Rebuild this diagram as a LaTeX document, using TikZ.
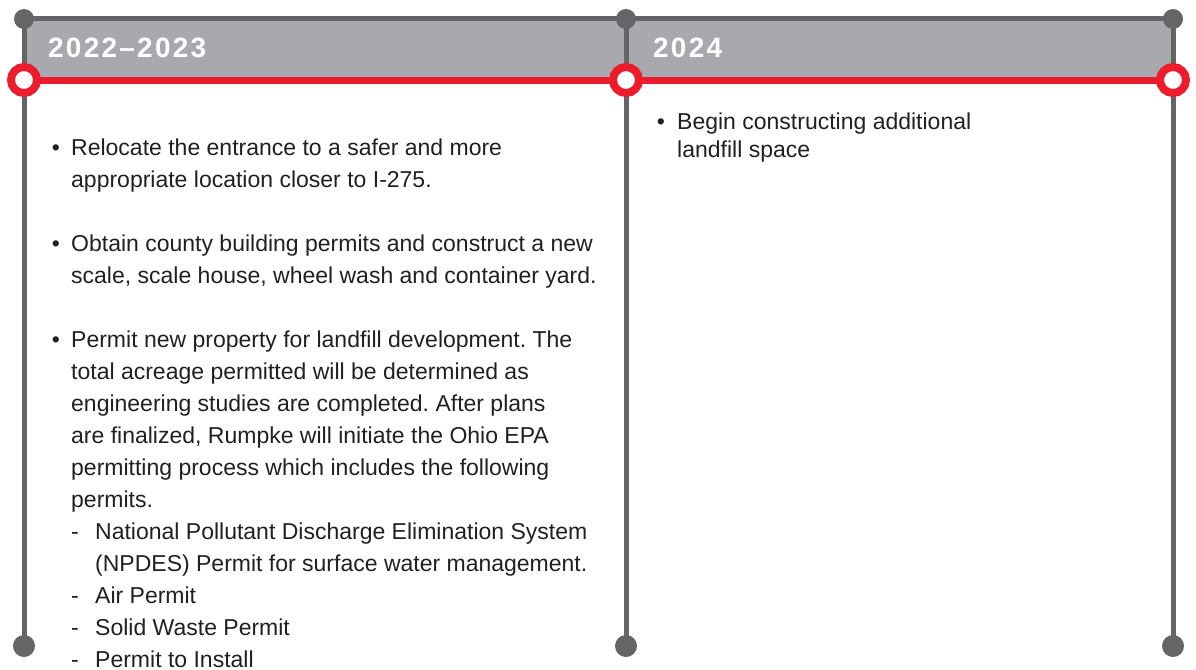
\documentclass[tikz,border=0pt]{standalone}
\usepackage{fontspec}
\setmainfont{Liberation Sans}
\usetikzlibrary{backgrounds}
\definecolor{linegray}{HTML}{646567}
\definecolor{headgray}{HTML}{A7A9AC}
\definecolor{tlred}{HTML}{EC1C2D}
\definecolor{txtcol}{HTML}{231F20}
\tikzset{
  topdot/.style={circle,fill=linegray,minimum size=20pt,inner sep=0pt},
  botdot/.style={circle,fill=linegray,minimum size=22pt,inner sep=0pt},
  ring/.style={circle,draw=tlred,line width=8pt,fill=white,minimum size=26pt,inner sep=0pt},
  vline/.style={draw=linegray,line width=5pt},
  redline/.style={draw=tlred,line width=7pt},
  yearlbl/.style={anchor=base west,inner sep=0pt,text=white,font=\fontsize{28}{32}\selectfont\bfseries\addfontfeature{LetterSpace=8}},
  txt/.style={anchor=base west,inner sep=0pt,text=txtcol,font=\fontsize{23}{27}\selectfont\frenchspacing},
}
\begin{document}
\begin{tikzpicture}[x=1pt,y=-1pt]
\useasboundingbox (0,0) rectangle (1196,669);
% dots
\node[topdot] (t1) at (24,19) {};
\node[topdot] (t2) at (626,19) {};
\node[topdot] (t3) at (1173,19) {};
\node[botdot] (b1) at (24,646) {};
\node[botdot] (b2) at (626,646) {};
\node[botdot] (b3) at (1173,646) {};
\node[ring] (r1) at (24,80) {};
\node[ring] (r2) at (626,80) {};
\node[ring] (r3) at (1173,80) {};
\begin{scope}[on background layer]
  \fill[headgray] (t1.center) rectangle (r3.center);
  \draw[vline] (t1.center) -- (t3.center);
  \draw[vline] (t1.center) -- (b1.center);
  \draw[vline] (t2.center) -- (b2.center);
  \draw[vline] (t3.center) -- (b3.center);
  \draw[redline] (r1.center) -- (r3.center);
\end{scope}
% headers
\node[yearlbl] (y1) at (48,57) {2022–2023};
\node[yearlbl] (y2) at (653,57) {2024};
% left column
\node[txt,anchor=base] (bl1) at (56,155) {•};
\node[txt] (l1) at (71,155) {Relocate the entrance to a safer and more};
\node[txt] (l2) at (71,187) {appropriate location closer to I-275.};
\node[txt,anchor=base] (bl2) at (56,251) {•};
\node[txt] (l3) at (71,251) {Obtain county building permits and construct a new};
\node[txt] (l4) at (71,283) {scale, scale house, wheel wash and container yard.};
\node[txt,anchor=base] (bl3) at (56,347) {•};
\node[txt] (l5) at (71,347) {Permit new property for landfill development. The};
\node[txt] (l6) at (71,379) {total acreage permitted will be determined as};
\node[txt] (l7) at (71,411) {engineering studies are completed. After plans};
\node[txt] (l8) at (71,443) {are finalized, Rumpke will initiate the Ohio EPA};
\node[txt] (l9) at (71,475) {permitting process which includes the following};
\node[txt] (l10) at (71,507) {permits.};
\node[txt] (d1) at (71,539) {-};
\node[txt] (s1) at (95,539) {National Pollutant Discharge Elimination System};
\node[txt] (s1b) at (95,571) {(NPDES) Permit for surface water management.};
\node[txt] (d2) at (71,603) {-};
\node[txt] (s2) at (95,603) {Air Permit};
\node[txt] (d3) at (71,635) {-};
\node[txt] (s3) at (95,635) {Solid Waste Permit};
\node[txt] (d4) at (71,667) {-};
\node[txt] (s4) at (95,667) {Permit to Install};
% right column
\node[txt,anchor=base] (br1) at (661,129) {•};
\node[txt] (rt1) at (677,129) {Begin constructing additional};
\node[txt] (rt2) at (677,157) {landfill space};
\end{tikzpicture}
\end{document}
